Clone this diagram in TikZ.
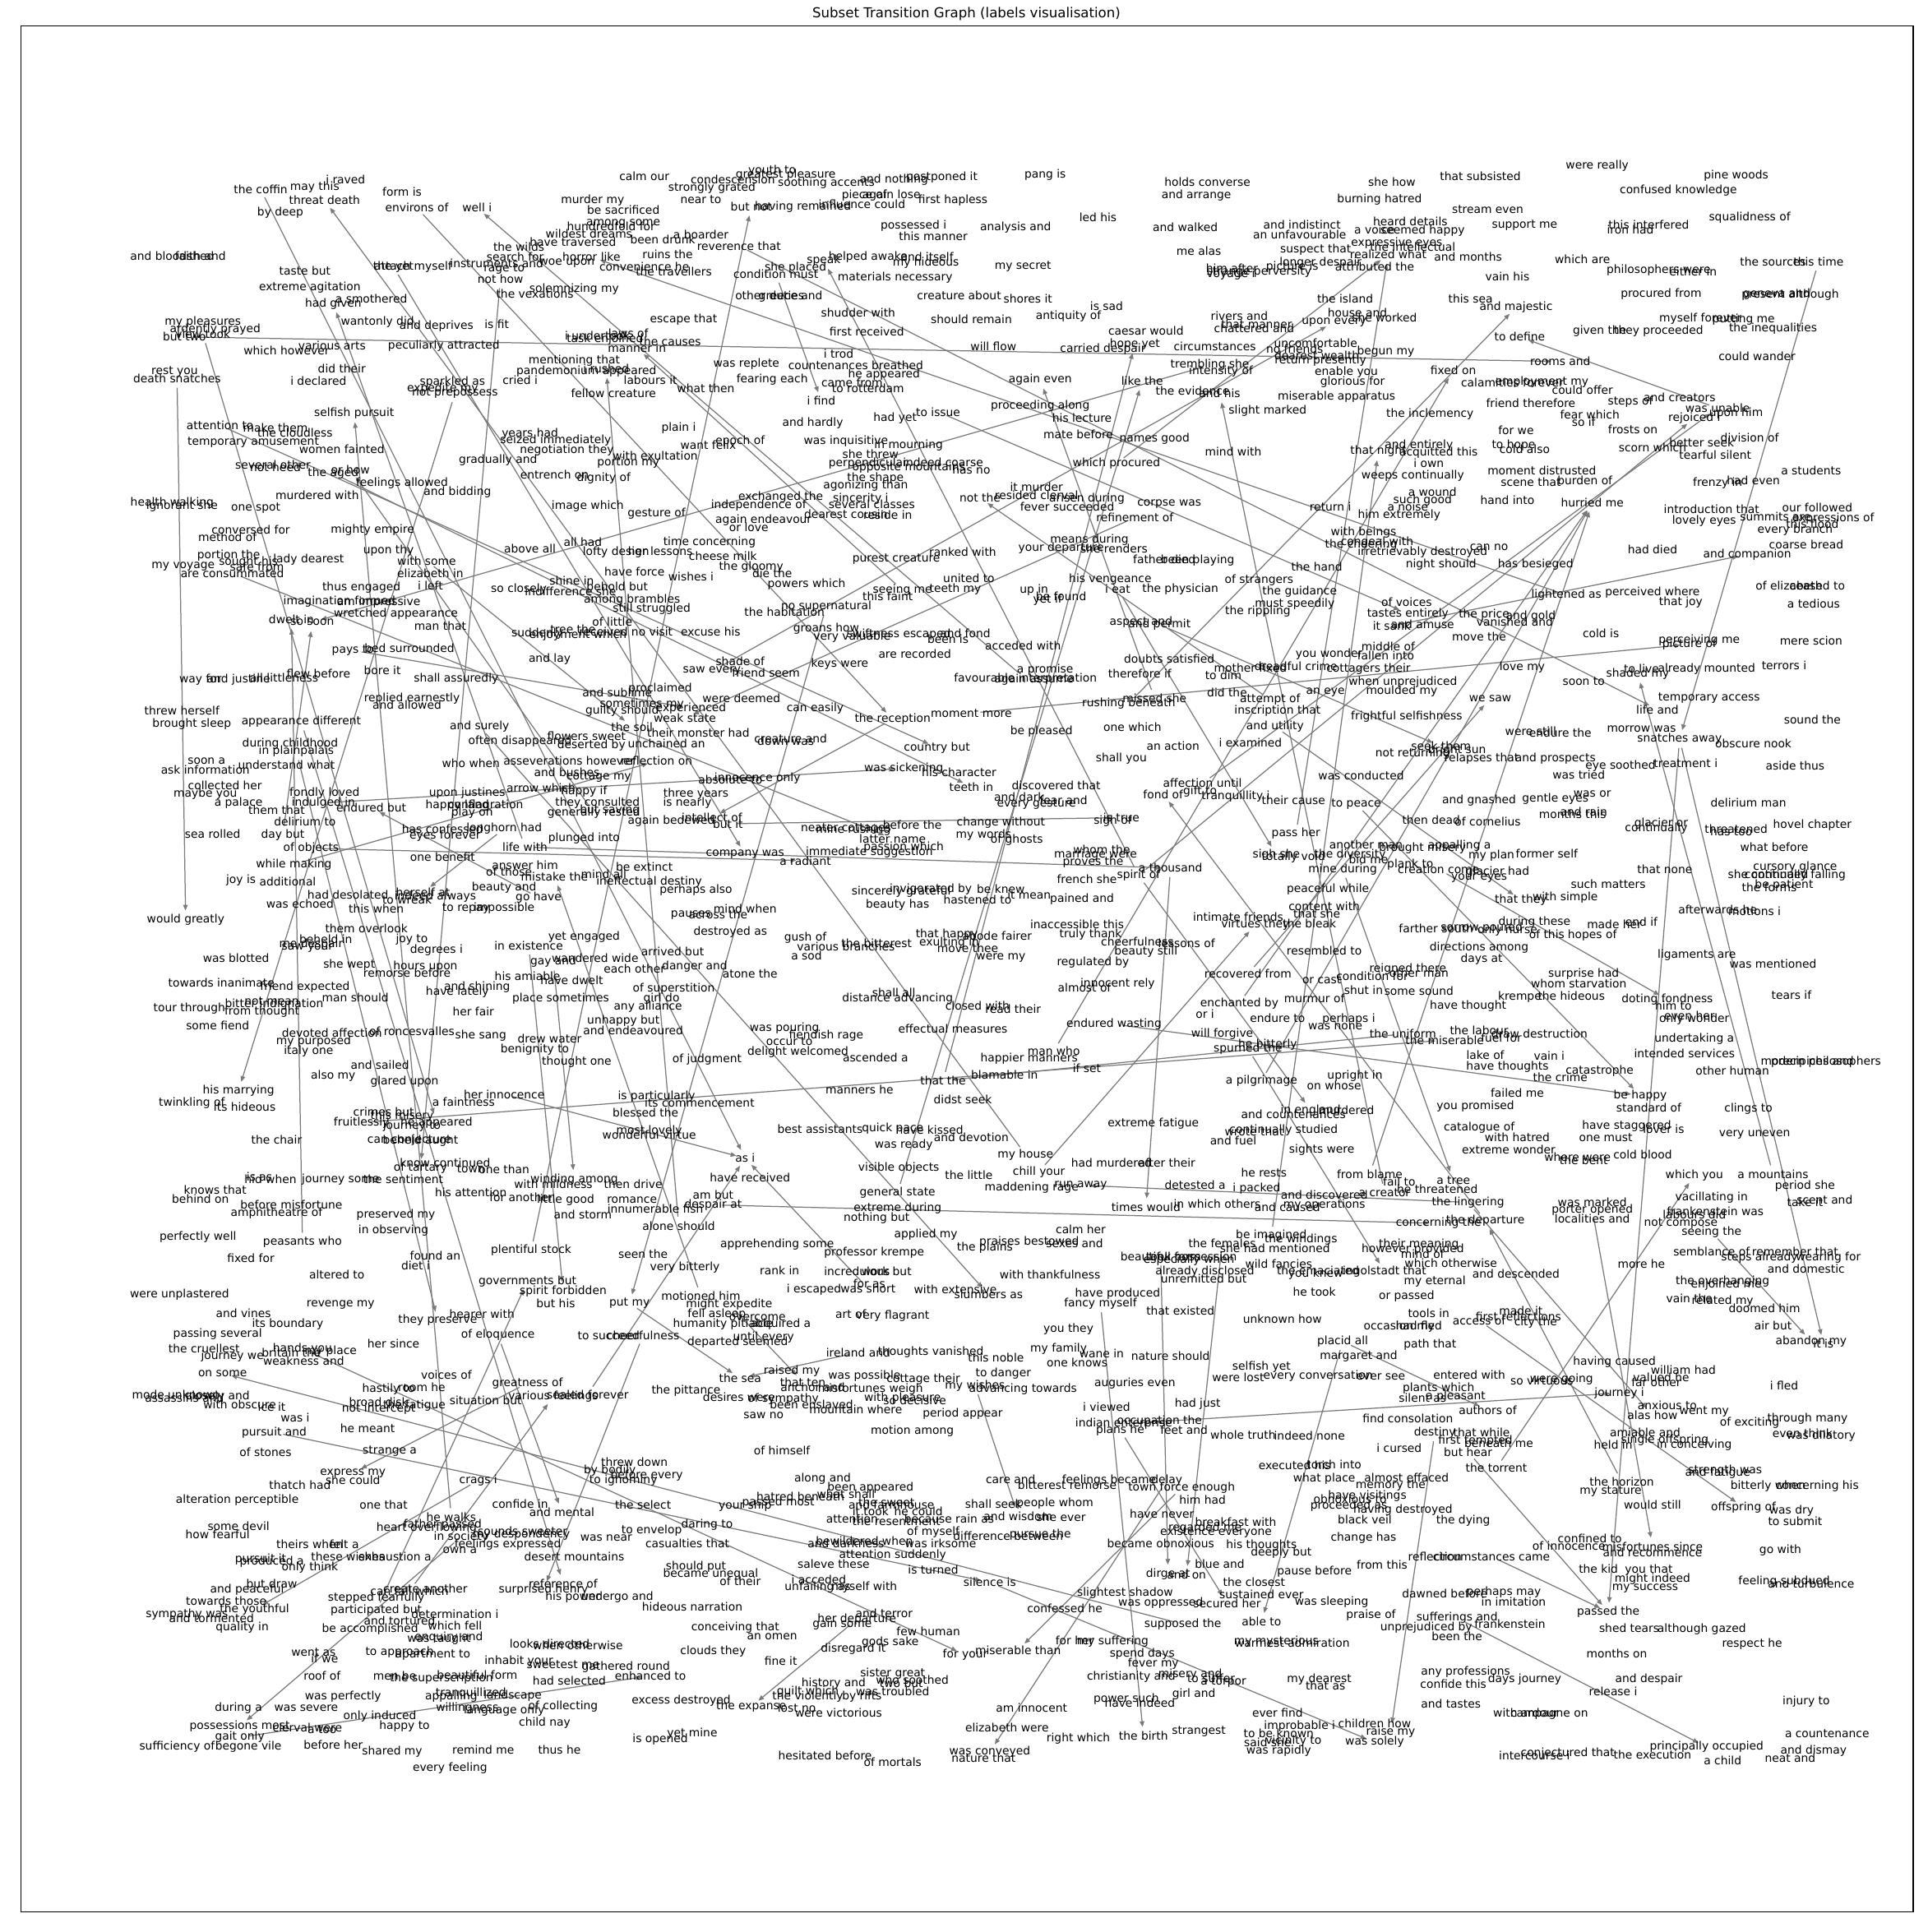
\documentclass[tikz,border=0pt]{standalone}
\usepackage{fontspec}
\setmainfont{DejaVu Sans}
\usetikzlibrary{arrows.meta,backgrounds}
\tikzset{
  lbl/.style={font=\fontsize{10}{12}\selectfont, inner sep=0pt, text=black},
  edge/.style={draw=black!52, line width=0.9pt, -{Triangle[length=5pt,width=4pt]}, shorten >=8pt, shorten <=8pt},
  frame/.style={draw=black, line width=0.8pt}
}
\def\wordat(#1)(#2,#3)#4{\node[lbl] (#1) at (#2,#3) {#4};}
\def\linkto(#1)(#2){\draw[edge] (#1.center) -- (#2.center);}

\begin{document}
\begin{tikzpicture}[x=0.037986cm, y=-0.037986cm]
			\useasboundingbox (0,0) rectangle (1568,1571.4);
			%%%%% FRAME %%%%%
			\draw[frame] (17,21) rectangle (1556,1555);
			\node (title) at (786,11) {\fontsize{12}{14}\selectfont Subset Transition Graph (labels visualisation)};
			
			%%%%% LABELS %%%%%
			\wordat(coffin)(212,154){the coffin}
			\wordat(maythis)(256,152){may this}
			\wordat(iraved)(281,146){i raved}
			\wordat(threatdeath)(264,163){threat death}
			\wordat(bydeep)(228,173){by deep}
			\wordat(formis)(327,156){form is}
			\wordat(environs)(339,169){environs of}
			\wordat(welli)(388,169){well i}
			\wordat(bloodshed)(140,208){and bloodshed}
			\wordat(faithand)(163,208){faith and}
			\wordat(tastebut)(248,220){taste but}
			\wordat(extremeag)(252,234){extreme agitation}
			\wordat(smothered)(302,243){a smothered}
			\wordat(hadgiven)(271,247){had given}
			\wordat(attachmyself)(336,217){attach myself}
			\wordat(theyet)(320,217){the yet}
			\wordat(mypleasures)(165,262){my pleasures}
			\wordat(ardently)(175,268){ardently prayed}
			\wordat(buttwo)(150,274){but two}
			\wordat(viewtook)(165,272){view took}
			\wordat(wantonly)(307,262){wantonly did}
			\wordat(deprives)(355,265){and deprives}
			\wordat(isfit)(404,264){is fit}
			\wordat(whichhowever)(233,285){which however}
			\wordat(variousarts)(270,281){various arts}
			\wordat(peculiarly)(361,281){peculiarly attracted}
			\wordat(restyou)(142,302){rest you}
			\wordat(deathsnatches)(144,308){death snatches}
			\wordat(didtheir)(278,300){did their}
			\wordat(ideclared)(259,310){i declared}
			\wordat(sparkled)(368,311){sparkled as}
			\wordat(expedite)(360,316){expedite my}
			\wordat(notprep)(370,320){not prepossess}
			\wordat(selfishpursuit)(288,336){selfish pursuit}
			\wordat(attentionto)(179,346){attention to}
			\wordat(makethem)(224,348){make them}
			\wordat(cloudless)(240,352){the cloudless}
			\wordat(tempamuse)(206,360){temporary amusement}
			\wordat(womenfainted)(278,365){women fainted}
			\wordat(severalother)(222,378){several other}
			\wordat(notheed)(224,380){not heed}
			\wordat(theaged)(271,385){the aged}
			\wordat(orhow)(285,382){or how}
			\wordat(feelingsallowed)(327,393){feelings allowed}
			\wordat(andbidding)(372,400){and bidding}
			\wordat(murderedwith)(258,403){murdered with}
			\wordat(healthwalking)(140,409){health walking}
			\wordat(ignorantshe)(148,412){ignorant she}
			\wordat(onespot)(208,413){one spot}
			\wordat(conversed)(204,431){conversed for}
			\wordat(methodof)(185,437){method of}
			\wordat(mightyempire)(303,431){mighty empire}
			\wordat(portionthe)(186,452){portion the}
			\wordat(soughthis)(202,457){sought his}
			\wordat(ladydearest)(251,455){lady dearest}
			\wordat(safefrom)(209,461){safe from}
			\wordat(myvoyage)(149,461){my voyage}
			\wordat(consummated)(189,466){are consummated}
			\wordat(uponthy)(316,448){upon thy}
			\wordat(withsome)(347,456){with some}
			\wordat(elizabethin)(350,466){elizabeth in}
			\wordat(ileft)(350,476){i left}
			\wordat(thusengaged)(294,478){thus engaged}
			\wordat(imagination)(276,489){imagination formed}
			\wordat(impressive)(308,490){am impressive}
			\wordat(wretched)(322,499){wretched appearance}
			\wordat(dweltin)(237,504){dwelt in}
			\wordat(sosoon)(254,506){so soon}
			\wordat(manthat)(358,509){man that}
			\wordat(paysto)(287,529){pays to}
			\wordat(bedsurrounded)(333,527){bed surrounded}
			\wordat(boreit)(311,545){bore it}
			\wordat(shallassuredly)(371,552){shall assuredly}
			\wordat(wayfor)(163,553){way for}
			\wordat(andjustine)(194,553){and justine}
			\wordat(littleness)(231,551){all littleness}
			\wordat(flewbefore)(259,548){flew before}
			\wordat(repliedearnestly)(335,568){replied earnestly}
			\wordat(andallowed)(331,573){and allowed}
			\wordat(threwherself)(148,578){threw herself}
			\wordat(broughtsleep)(156,589){brought sleep}
			\wordat(appdifferent)(245,587){appearance different}
			\wordat(calmour)(524,143){calm our}
			\wordat(youthto)(628,139){youth to}
			\wordat(greatestpleasure)(639,142){greatest pleasure}
			\wordat(condescension)(596,146){condescension}
			\wordat(soothing)(672,149){soothing accents}
			\wordat(andnothing)(727,146){and nothing}
			\wordat(postponed)(766,144){postponed it}
			\wordat(stronglygrated)(579,153){strongly grated}
			\wordat(nearto)(570,162){near to}
			\wordat(murdermy)(482,163){murder my}
			\wordat(pieceof)(703,159){piece of}
			\wordat(againlose)(725,159){again lose}
			\wordat(firsthapless)(775,163){first hapless}
			\wordat(butnot)(611,168){but not}
			\wordat(having)(653,168){having remained}
			\wordat(influence)(701,166){influence could}
			\wordat(sacrificed)(507,171){be sacrificed}
			\wordat(amongsome)(507,182){among some}
			\wordat(hundredfold)(497,184){hundredfold for}
			\wordat(possessedi)(743,184){possessed i}
			\wordat(wildest)(479,190){wildest dreams}
			\wordat(traversed)(466,197){have traversed}
			\wordat(beendrunk)(539,195){been drunk}
			\wordat(aboarder)(570,191){a boarder}
			\wordat(thismanner)(759,192){this manner}
			\wordat(reverence)(601,200){reverence that}
			\wordat(thewilds)(422,201){the wilds}
			\wordat(horrorlike)(481,209){horror like}
			\wordat(ruinsthe)(543,207){ruins the}
			\wordat(woeupon)(461,214){woe upon}
			\wordat(convenience)(524,217){convenience he}
			\wordat(travellers)(548,221){the travellers}
			\wordat(searchfor)(419,209){search for}
			\wordat(instruments)(404,214){instruments and}
			\wordat(rageto)(410,219){rage to}
			\wordat(nothow)(407,227){not how}
			\wordat(vexations)(435,239){the vexations}
			\wordat(solemnizing)(467,235){solemnizing my}
			\wordat(speak)(670,212){speak}
			\wordat(helpedawake)(706,209){helped awake}
			\wordat(anditself)(754,209){and itself}
			\wordat(sheplaced)(647,218){she placed}
			\wordat(myhideous)(753,214){my hideous}
			\wordat(conditionmust)(631,223){condition must}
			\wordat(materials)(728,226){materials necessary}
			\wordat(otherduties)(626,240){other duties}
			\wordat(greeceand)(643,241){greece and}
			\wordat(creatureabout)(780,240){creature about}
			\wordat(shudderwith)(698,254){shudder with}
			\wordat(escapethat)(556,260){escape that}
			\wordat(firstreceived)(705,270){first received}
			\wordat(lawsof)(511,271){laws of}
			\wordat(iundertook)(486,273){i undertook}
			\wordat(taskenjoined)(492,276){task enjoined}
			\wordat(thecauses)(545,278){the causes}
			\wordat(mannerin)(518,283){manner in}
			\wordat(itrod)(682,288){i trod}
			\wordat(mentioning)(467,293){mentioning that}
			\wordat(pandemonium)(477,302){pandemonium appeared}
			\wordat(irushed)(493,300){i rushed}
			\wordat(wasreplete)(607,296){was replete}
			\wordat(countenances)(696,297){countenances breathed}
			\wordat(heappeared)(719,305){he appeared}
			\wordat(criedi)(423,309){cried i}
			\wordat(laboursit)(529,309){labours it}
			\wordat(fearingeach)(628,309){fearing each}
			\wordat(camefrom)(693,311){came from}
			\wordat(fellowcreature)(499,320){fellow creature}
			\wordat(whatthen)(574,316){what then}
			\wordat(torotterdam)(706,316){to rotterdam}
			\wordat(ifind)(668,326){i find}
			\wordat(toissue)(763,335){to issue}
			\wordat(hadyet)(728,340){had yet}
			\wordat(andhardly)(661,344){and hardly}
			\wordat(plaini)(552,348){plain i}
			\wordat(yearshad)(431,353){years had}
			\wordat(seized)(452,358){seized immediately}
			\wordat(negotiation)(461,366){negotiation they}
			\wordat(wantfelix)(576,362){want felix}
			\wordat(epochof)(602,359){epoch of}
			\wordat(inquisitive)(688,359){was inquisitive}
			\wordat(inmourning)(739,362){in mourning}
			\wordat(exultation)(533,371){with exultation}
			\wordat(portionmy)(511,376){portion my}
			\wordat(gradually)(405,374){gradually and}
			\wordat(shethrew)(708,369){she threw}
			\wordat(perpendicular)(706,377){perpendicular}
			\wordat(indeedcoarse)(767,376){indeed coarse}
			\wordat(oppositemount)(739,380){opposite mountains}
			\wordat(hasno)(790,382){has no}
			\wordat(entrench)(451,386){entrench on}
			\wordat(dignityof)(491,389){dignity of}
			\wordat(theshape)(712,389){the shape}
			\wordat(agonizing)(704,395){agonizing than}
			\wordat(exchanged)(635,404){exchanged the}
			\wordat(sincerity)(700,406){sincerity i}
			\wordat(imagewhich)(478,412){image which}
			\wordat(independence)(617,411){independence of}
			\wordat(severalclasses)(709,410){several classes}
			\wordat(gestureof)(534,418){gesture of}
			\wordat(dearestcousin)(688,418){dearest cousin}
			\wordat(residein)(722,419){reside in}
			\wordat(endeavour)(621,423){again endeavour}
			\wordat(orlove)(609,429){or love}
			\wordat(aboveall)(431,446){above all}
			\wordat(allhad)(474,441){all had}
			\wordat(timeconcerning)(577,441){time concerning}
			\wordat(loftydesign)(501,449){lofty design}
			\wordat(herlessons)(537,448){her lessons}
			\wordat(cheesemilk)(588,452){cheese milk}
			\wordat(rankedwith)(783,449){ranked with}
			\wordat(purestcreature)(729,455){purest creature}
			\wordat(thegloomy)(611,461){the gloomy}
			\wordat(haveforce)(516,465){have force}
			\wordat(diethe)(628,466){die the}
			\wordat(wishesi)(562,469){wishes i}
			\wordat(shinein)(465,472){shine in}
			\wordat(unitedto)(788,470){united to}
			\wordat(soclosely)(422,479){so closely}
			\wordat(beholdbut)(502,477){behold but}
			\wordat(indifference)(464,481){indifference she}
			\wordat(powerswhich)(656,475){powers which}
			\wordat(seeingme)(734,480){seeing me}
			\wordat(teethmy)(777,479){teeth my}
			\wordat(thisfaint)(722,485){this faint}
			\wordat(brambles)(514,488){among brambles}
			\wordat(struggled)(530,495){still struggled}
			\wordat(nosuper)(672,493){no supernatural}
			\wordat(habitation)(638,498){the habitation}
			\wordat(oflittle)(498,506){of little}
			\wordat(suddenly)(437,515){suddenly}
			\wordat(treethe)(466,512){tree the}
			\wordat(novisit)(509,514){received no visit}
			\wordat(enjoyment)(470,517){enjoyment which}
			\wordat(excusehis)(578,514){excuse his}
			\wordat(groanshow)(672,511){groans how}
			\wordat(valuable)(693,518){very valuable}
			\wordat(swiftness)(731,516){swiftness escaped}
			\wordat(andfond)(785,515){and fond}
			\wordat(beenis)(771,520){been is}
			\wordat(recorded)(744,532){are recorded}
			\wordat(andlay)(447,536){and lay}
			\wordat(shadeof)(602,538){shade of}
			\wordat(savevery)(579,546){saw every}
			\wordat(friendseem)(623,547){friend seem}
			\wordat(keyswere)(683,540){keys were}
			\wordat(andsublime)(502,563){and sublime}
			\wordat(proclaimed)(537,560){proclaimed}
			\wordat(sometimesmy)(522,573){sometimes my}
			\wordat(weredeemed)(603,568){were deemed}
			\wordat(guiltyshould)(506,578){guilty should}
			\wordat(experienced)(562,576){experienced}
			\wordat(weakstate)(557,584){weak state}
			\wordat(caneasily)(663,576){can easily}
			\wordat(reception)(726,585){the reception}
			\wordat(momentmore)(790,580){moment more}
			\wordat(pangis)(850,142){pang is}
			\wordat(holdsconverse)(982,148){holds converse}
			\wordat(shehow)(1132,148){she how}
			\wordat(thatsubsisted)(1204,143){that subsisted}
			\wordat(werereally)(1299,135){were really}
			\wordat(pinewoods)(1412,143){pine woods}
			\wordat(andarrange)(973,159){and arrange}
			\wordat(burninghatred)(1122,162){burning hatred}
			\wordat(confusedknow)(1365,155){confused knowledge}
			\wordat(streameven)(1210,170){stream even}
			\wordat(ledhis)(893,177){led his}
			\wordat(analysisand)(826,185){analysis and}
			\wordat(andwalked)(964,185){and walked}
			\wordat(indistinct)(1059,183){and indistinct}
			\wordat(unfavourable)(1057,191){an unfavourable}
			\wordat(avoice)(1118,187){a voice}
			\wordat(hearddetails)(1147,180){heard details}
			\wordat(seemedhappy)(1157,188){seemed happy}
			\wordat(supportme)(1240,183){support me}
			\wordat(interfered)(1341,183){this interfered}
			\wordat(ironhad)(1326,187){iron had}
			\wordat(squalidness)(1423,177){squalidness of}
			\wordat(expressive)(1136,198){expressive eyes}
			\wordat(mealas)(975,204){me alas}
			\wordat(intellectual)(1149,201){the intellectual}
			\wordat(suspectthat)(1070,203){suspect that}
			\wordat(realizedwhat)(1129,207){realized what}
			\wordat(andmonths)(1194,209){and months}
			\wordat(mysecret)(832,217){my secret}
			\wordat(longerdespair)(1074,214){longer despair}
			\wordat(himafter)(1002,218){him after}
			\wordat(pictureis)(1051,217){picture is}
			\wordat(attributed)(1118,217){attributed the}
			\wordat(perversity)(1024,221){strange perversity}
			\wordat(voyagei)(1001,223){voyage i}
			\wordat(whichare)(1287,211){which are}
			\wordat(vainhis)(1226,225){vain his}
			\wordat(philosophers)(1349,220){philosophers were}
			\wordat(eitherin)(1377,221){either in}
			\wordat(sources)(1442,213){the sources}
			\wordat(thistime)(1479,213){this time}
			\wordat(shoresit)(836,243){shores it}
			\wordat(island)(1094,243){the island}
			\wordat(thissea)(1196,243){this sea}
			\wordat(majestic)(1233,250){and majestic}
			\wordat(issad)(900,249){is sad}
			\wordat(antiquity)(869,257){antiquity of}
			\wordat(shouldremain)(790,260){should remain}
			\wordat(riversand)(1008,257){rivers and}
			\wordat(houseand)(1104,254){house and}
			\wordat(uponevery)(1085,262){upon every}
			\wordat(sheworked)(1126,258){she worked}
			\wordat(thatmanner)(1022,264){that manner}
			\wordat(chattered)(1020,267){chattered and}
			\wordat(caesar)(932,269){caesar would}
			\wordat(procuredfrom)(1351,239){procured from}
			\wordat(genevaand)(1445,239){geneva and}
			\wordat(presentalthough)(1456,240){present although}
			\wordat(myselfforever)(1383,259){myself forever}
			\wordat(puttingme)(1418,260){putting me}
			\wordat(inequalities)(1442,267){the inequalities}
			\wordat(giventhe)(1301,269){given the}
			\wordat(theyproceeded)(1349,269){they proceeded}
			\wordat(todefine)(1236,274){to define}
			\wordat(couldwander)(1429,290){could wander}
			\wordat(willflow)(808,282){will flow}
			\wordat(carrieddespair)(897,284){carried despair}
			\wordat(hopeyet)(923,280){hope yet}
			\wordat(circumstances)(988,282){circumstances}
			\wordat(uncomfortable)(1070,279){uncomfortable}
			\wordat(nofriends)(1053,284){no friends}
			\wordat(dearestwealth)(1071,289){dearest wealth}
			\wordat(returnpresently)(1074,293){return presently}
			\wordat(begunmy)(1127,286){begun my}
			\wordat(roomsand)(1269,294){rooms and}
			\wordat(fixedon)(1182,301){fixed on}
			\wordat(tremblingshe)(984,297){trembling she}
			\wordat(intensity)(993,302){intensity of}
			\wordat(calamities)(1230,311){calamities forever}
			\wordat(employment)(1254,311){employment my}
			\wordat(couldoffer)(1287,317){could offer}
			\wordat(enableyou)(1095,303){enable you}
			\wordat(gloriousfor)(1100,311){glorious for}
			\wordat(againeven)(846,309){again even}
			\wordat(likethe)(929,310){like the}
			\wordat(evidence)(970,318){the evidence}
			\wordat(andhis)(992,320){and his}
			\wordat(apparatus)(1087,323){miserable apparatus}
			\wordat(slightmarked)(1031,334){slight marked}
			\wordat(andcreators)(1366,323){and creators}
			\wordat(friendtherefore)(1245,328){friend therefore}
			\wordat(stepsof)(1326,327){steps of}
			\wordat(wasunable)(1397,332){was unable}
			\wordat(uponhim)(1412,336){upon him}
			\wordat(fearwhich)(1293,337){fear which}
			\wordat(rejoicedi)(1378,340){rejoiced i}
			\wordat(soif)(1288,343){so if}
			\wordat(proceeding)(846,330){proceeding along}
			\wordat(hislecture)(880,340){his lecture}
			\wordat(inclemency)(1163,337){the inclemency}
			\wordat(matebefore)(877,353){mate before}
			\wordat(namesgood)(939,357){names good}
			\wordat(mindwith)(1003,367){mind with}
			\wordat(thatnight)(1121,367){that night}
			\wordat(entirely)(1154,362){and entirely}
			\wordat(acquitted)(1170,368){acquitted this}
			\wordat(iown)(1162,377){i own}
			\wordat(forwe)(1233,350){for we}
			\wordat(frostson)(1328,349){frosts on}
			\wordat(betterseek)(1384,360){better seek}
			\wordat(divisionof)(1423,356){division of}
			\wordat(tohope)(1231,362){to hope}
			\wordat(coldalso)(1240,365){cold also}
			\wordat(scornwhich)(1344,364){scorn which}
			\wordat(tearfulsilent)(1395,370){tearful silent}
			\wordat(whichprocured)(908,377){which procured}
			\wordat(notthe)(797,405){not the}
			\wordat(itmurder)(843,396){it murder}
			\wordat(residedclerval)(843,403){resided clerval}
			\wordat(arisenduring)(884,406){arisen during}
			\wordat(fever)(868,412){fever succeeded}
			\wordat(corpsewas)(951,410){corpse was}
			\wordat(returni)(1082,412){return i}
			\wordat(suchgood)(1157,407){such good}
			\wordat(anoise)(1145,412){a noise}
			\wordat(himextremely)(1138,419){him extremely}
			\wordat(awound)(1165,400){a wound}
			\wordat(distrusted)(1254,383){moment distrusted}
			\wordat(scenethat)(1245,392){scene that}
			\wordat(burdenof)(1289,391){burden of}
			\wordat(astudents)(1473,383){a students}
			\wordat(frenzyin)(1397,393){frenzy in}
			\wordat(hadeven)(1426,391){had even}
			\wordat(weeps)(1149,387){weeps continually}
			\wordat(handinto)(1226,407){hand into}
			\wordat(hurriedme)(1295,409){hurried me}
			\wordat(introduction)(1392,414){introduction that}
			\wordat(ourfollowed)(1478,413){our followed}
			\wordat(lovelyeyes)(1386,424){lovely eyes}
			\wordat(summits)(1444,420){summits are}
			\wordat(expressions)(1491,422){expressions of}
			\wordat(thisflood)(1474,426){this flood}
			\wordat(everybranch)(1460,431){every branch}
			\wordat(refinement)(923,421){refinement of}
			\wordat(withbeings)(1109,433){with beings}
			\wordat(congeal)(1120,441){congeal with}
			\wordat(cheering)(1107,443){the cheering}
			\wordat(irretrievably)(1157,449){irretrievably destroyed}
			\wordat(canno)(1211,445){can no}
			\wordat(haddied)(1344,447){had died}
			\wordat(companion)(1421,451){and companion}
			\wordat(coarsebread)(1469,443){coarse bread}
			\wordat(meansduring)(886,439){means during}
			\wordat(yourdeparture)(863,446){your departure}
			\wordat(renders)(906,446){she renders}
			\wordat(nightshould)(1172,459){night should}
			\wordat(besieged)(1249,459){has besieged}
			\wordat(fatherdied)(947,455){father died}
			\wordat(beenplaying)(974,456){been playing}
			\wordat(thehand)(1071,461){the hand}
			\wordat(vengeance)(903,471){his vengeance}
			\wordat(ofstrangers)(1024,472){of strangers}
			\wordat(upin)(841,480){up in}
			\wordat(befound)(863,485){be found}
			\wordat(yetif)(852,488){yet if}
			\wordat(ieat)(909,479){i eat}
			\wordat(physician)(960,479){the physician}
			\wordat(guidance)(1057,481){the guidance}
			\wordat(speedily)(1053,491){must speedily}
			\wordat(rippling)(1023,497){the rippling}
			\wordat(ofvoices)(1144,490){of voices}
			\wordat(tastes)(1145,499){tastes entirely}
			\wordat(elizabethof)(1455,476){of elizabeth}
			\wordat(ceasedto)(1478,476){ceased to}
			\wordat(tedious)(1475,491){a tedious}
			\wordat(lightenedas)(1274,484){lightened as}
			\wordat(perceived)(1344,482){perceived where}
			\wordat(thatjoy)(1367,490){that joy}
			\wordat(aspectand)(928,506){aspect and}
			\wordat(permit)(943,508){and permit}
			\wordat(itsank)(1132,509){it sank}
			\wordat(amuse)(1157,508){and amuse}
			\wordat(theprice)(1207,500){the price}
			\wordat(andgold)(1245,501){and gold}
			\wordat(vanished)(1232,506){vanished and}
			\wordat(movethe)(1203,518){move the}
			\wordat(coldis)(1302,515){cold is}
			\wordat(pictureof)(1374,524){picture of}
			\wordat(perceivingme)(1382,521){perceiving me}
			\wordat(merescion)(1473,521){mere scion}
			\wordat(acceded)(832,525){acceded with}
			\wordat(middleof)(1129,526){middle of}
			\wordat(fallen)(1127,533){fallen into}
			\wordat(youwonder)(1081,532){you wonder}
			\wordat(doubts)(951,536){doubts satisfied}
			\wordat(dreadful)(1054,542){dreadful crime}
			\wordat(motherfixed)(1017,543){mother fixed}
			\wordat(cottagers)(1113,544){cottagers their}
			\wordat(apromise)(850,545){a promise}
			\wordat(againassume)(841,553){again assume}
			\wordat(favourableint)(834,552){favourable interpretation}
			\wordat(thereforeif)(927,548){therefore if}
			\wordat(todim)(995,549){to dim}
			\wordat(lovemy)(1238,543){love my}
			\wordat(tolive)(1335,544){to live}
			\wordat(already)(1388,544){already mounted}
			\wordat(shadedmy)(1332,548){shaded my}
			\wordat(terrorsi)(1451,541){terrors i}
			\wordat(soonto)(1288,554){soon to}
			\wordat(unprejudiced)(1141,555){when unprejudiced}
			\wordat(mouldedmy)(1140,562){moulded my}
			\wordat(wesaw)(1212,568){we saw}
			\wordat(didthe)(998,563){did the}
			\wordat(aneye)(1078,563){an eye}
			\wordat(attemptof)(1033,569){attempt of}
			\wordat(missedshe)(939,568){missed she}
			\wordat(rushing)(918,572){rushing beneath}
			\wordat(inscription)(1039,578){inscription that}
			\wordat(frightful)(1144,583){frightful selfishness}
			\wordat(tempaccess)(1390,568){temporary access}
			\wordat(lifeand)(1348,577){life and}
			\wordat(soundthe)(1474,585){sound the}
			\wordat(snatchesaway)(1366,601){snatches away}
			\wordat(morrowwas)(1335,593){morrow was}
			\wordat(endurethe)(1269,596){endure the}
			\wordat(werestill)(1245,595){were still}
			\wordat(relapses)(1205,617){relapses that}
			\wordat(prospects)(1265,617){and prospects}
			\wordat(eyesoothed)(1318,623){eye soothed}
			\wordat(treatmenti)(1371,621){treatment i}
			\wordat(obscurenook)(1426,605){obscure nook}
			\wordat(asidethus)(1460,623){aside thus}
			\wordat(wastried)(1284,630){was tried}
			\wordat(deliriumman)(1422,653){delirium man}
			\wordat(andsurely)(390,591){and surely}
			\wordat(childhood)(236,605){during childhood}
			\wordat(plainpalais)(241,611){in plainpalais}
			\wordat(soona)(168,619){soon a}
			\wordat(understand)(233,622){understand what}
			\wordat(oftendisappeared)(423,603){often disappeared}
			\wordat(whowhen)(383,621){who when}
			\wordat(askinfo)(167,626){ask information}
			\wordat(collected)(183,639){collected her}
			\wordat(maybeyou)(167,646){maybe you}
			\wordat(apalace)(194,653){a palace}
			\wordat(fondlyloved)(264,645){fondly loved}
			\wordat(indulgedin)(263,653){indulged in}
			\wordat(themthat)(225,659){them that}
			\wordat(enduredbut)(302,657){endured but}
			\wordat(justines)(380,645){upon justines}
			\wordat(happyland)(372,655){happy land}
			\wordat(conflagration)(395,655){conflagration}
			\wordat(playon)(384,661){play on}
			\wordat(delirium)(248,668){delirium to}
			\wordat(daybut)(230,679){day but}
			\wordat(searolled)(173,678){sea rolled}
			\wordat(confessed)(360,674){has confessed}
			\wordat(eyesforever)(362,680){eyes forever}
			\wordat(longhornhad)(410,674){longhorn had}
			\wordat(ofobjects)(253,690){of objects}
			\wordat(lifewith)(427,689){life with}
			\wordat(onebenefit)(360,697){one benefit}
			\wordat(whilemaking)(239,703){while making}
			\wordat(answerhim)(427,704){answer him}
			\wordat(ofthose)(414,709){of those}
			\wordat(joyis)(196,716){joy is}
			\wordat(additional)(234,717){additional}
			\wordat(beautyand)(410,722){beauty and}
			\wordat(desolated)(283,728){had desolated}
			\wordat(herselfat)(344,726){herself at}
			\wordat(towreak)(331,732){to wreak}
			\wordat(indeedalways)(354,729){indeed always}
			\wordat(wasechoed)(244,735){was echoed}
			\wordat(thiswhen)(306,739){this when}
			\wordat(torepay)(379,739){to repay}
			\wordat(impossible)(410,739){impossible}
			\wordat(gohave)(438,730){go have}
			\wordat(mistakethe)(451,713){mistake the}
			\wordat(mindall)(491,711){mind all}
			\wordat(wouldgreatly)(151,748){would greatly}
			\wordat(overlook)(298,755){them overlook}
			\wordat(beheldin)(265,764){beheld in}
			\wordat(medespair)(253,768){me despair}
			\wordat(sawyour)(250,771){saw your}
			\wordat(joyto)(335,764){joy to}
			\wordat(degreesi)(355,773){degrees i}
			\wordat(inexistence)(430,769){in existence}
			\wordat(wasblotted)(192,779){was blotted}
			\wordat(shewept)(284,785){she wept}
			\wordat(hoursupon)(346,786){hours upon}
			\wordat(remorse)(331,791){remorse before}
			\wordat(hisamiable)(429,794){his amiable}
			\wordat(gayand)(450,782){gay and}
			\wordat(inanimate)(180,799){towards inanimate}
			\wordat(friendexpected)(248,803){friend expected}
			\wordat(havelately)(372,807){have lately}
			\wordat(andshining)(388,803){and shining}
			\wordat(havedwelt)(465,797){have dwelt}
			\wordat(wanderedwide)(484,779){wandered wide}
			\wordat(yetengaged)(475,762){yet engaged}
			\wordat(notmean)(221,814){not mean}
			\wordat(manshould)(289,811){man should}
			\wordat(bitterind)(223,817){bitter indignation}
			\wordat(tourthrough)(154,820){tour through}
			\wordat(fromthought)(213,823){from thought}
			\wordat(herfair)(385,823){her fair}
			\wordat(placesometimes)(456,812){place sometimes}
			\wordat(somefiend)(177,834){some fiend}
			\wordat(devoted)(270,840){devoted affection}
			\wordat(roncesvalles)(335,839){of roncesvalles}
			\wordat(shesang)(391,842){she sang}
			\wordat(mypurposed)(255,847){my purposed}
			\wordat(italyone)(251,855){italy one}
			\wordat(drewwater)(447,845){drew water}
			\wordat(benignity)(435,854){benignity to}
			\wordat(thoughtone)(469,864){thought one}
			\wordat(andsailed)(309,866){and sailed}
			\wordat(alsomy)(271,875){also my}
			\wordat(glaredupon)(329,880){glared upon}
			\wordat(hismarrying)(194,887){his marrying}
			\wordat(twinkling)(156,897){twinkling of}
			\wordat(itshideous)(199,900){its hideous}
			\wordat(crimesbut)(312,904){crimes but}
			\wordat(thismisery)(327,908){this misery}
			\wordat(afaintness)(377,896){a faintness}
			\wordat(herinnocence)(410,890){her innocence}
			\wordat(fruitlessly)(294,913){fruitlessly}
			\wordat(heappearedb)(355,913){he appeared}
			\wordat(journeyto)(335,916){journey to}
			\wordat(thechair)(225,927){the chair}
			\wordat(conjecture)(333,927){can conjecture}
			\wordat(beheldaught)(342,928){beheld aught}
			\wordat(knowcontinued)(362,946){know continued}
			\wordat(oftartary)(342,950){of tartary}
			\wordat(town)(383,951){town}
			\wordat(onethan)(410,951){one than}
			\wordat(isas)(211,957){is as}
			\wordat(hidwhen)(220,959){hid when}
			\wordat(journeysome)(277,959){journey some}
			\wordat(sentiment)(328,959){the sentiment}
			\wordat(knowsthat)(175,968){knows that}
			\wordat(behindon)(163,975){behind on}
			\wordat(hisattention)(383,970){his attention}
			\wordat(foranother)(424,974){for another}
			\wordat(misfortune)(237,980){before misfortune}
			\wordat(amphitheatre)(225,987){amphitheatre of}
			\wordat(preservedmy)(322,988){preserved my}
			\wordat(perfectlywell)(161,1006){perfectly well}
			\wordat(peasants)(246,1010){peasants who}
			\wordat(inobserving)(320,1001){in observing}
			\wordat(fixedfor)(204,1023){fixed for}
			\wordat(foundan)(354,1021){found an}
			\wordat(dieti)(338,1029){diet i}
			\wordat(alteredto)(274,1037){altered to}
			\wordat(unplastered)(146,1053){were unplastered}
			\wordat(plentiful)(432,1017){plentiful stock}
			\wordat(governments)(429,1042){governments but}
			\wordat(thesoil)(514,591){the soil}
			\wordat(flowerssweet)(477,599){flowers sweet}
			\wordat(monsterhad)(568,596){their monster had}
			\wordat(creatureand)(643,601){creature and}
			\wordat(downwas)(639,603){down was}
			\wordat(desertedby)(481,606){deserted by}
			\wordat(unchained)(542,605){unchained an}
			\wordat(countrybut)(762,608){country but}
			\wordat(asseverations)(463,619){asseverations however}
			\wordat(reflection)(534,619){reflection on}
			\wordat(bushes)(461,628){and bushes}
			\wordat(cottagemy)(487,632){cottage my}
			\wordat(innocenceonly)(616,633){innocence only}
			\wordat(absoluteto)(594,634){absolute to}
			\wordat(sickening)(735,625){was sickening}
			\wordat(hischaracter)(780,628){his character}
			\wordat(teethin)(790,640){teeth in}
			\wordat(arrowwhich)(440,641){arrow which}
			\wordat(happyif)(475,644){happy if}
			\wordat(threeyears)(566,646){three years}
			\wordat(isnearly)(559,653){is nearly}
			\wordat(consulted)(486,653){they consulted}
			\wordat(butsaving)(496,659){but saving}
			\wordat(generally)(483,661){generally rested}
			\wordat(intellectof)(579,665){intellect of}
			\wordat(bedewed)(546,668){again bedewed}
			\wordat(butit)(592,670){but it}
			\wordat(plunged)(475,682){plunged into}
			\wordat(neater)(688,674){neater cottages}
			\wordat(minerushing)(694,675){mine rushing}
			\wordat(beforethe)(742,671){before the}
			\wordat(lattername)(726,682){latter name}
			\wordat(passion)(735,689){passion which}
			\wordat(companywas)(606,695){company was}
			\wordat(immediate)(707,693){immediate suggestion}
			\wordat(aradiant)(655,700){a radiant}
			\wordat(beextinct)(524,705){be extinct}
			\wordat(ineffectual)(528,717){ineffectual destiny}
			\wordat(perhapsalso)(566,724){perhaps also}
			\wordat(sincerely)(733,725){sincerely grateful}
			\wordat(invigorated)(757,723){invigorated by}
			\wordat(hastenedto)(795,732){hastened to}
			\wordat(beautyhas)(730,736){beauty has}
			\wordat(mindwhen)(606,739){mind when}
			\wordat(acrossthe)(584,744){across the}
			\wordat(pauses)(562,744){pauses}
			\wordat(destroyedas)(594,758){destroyed as}
			\wordat(gushof)(655,763){gush of}
			\wordat(branches)(688,770){various branches}
			\wordat(bitterest)(713,767){the bitterest}
			\wordat(exulting)(772,767){exulting in}
			\wordat(thathappy)(770,760){that happy}
			\wordat(movethee)(787,771){move thee}
			\wordat(asod)(656,777){a sod}
			\wordat(arrivedbut)(547,774){arrived but}
			\wordat(eachother)(516,788){each other}
			\wordat(dangerand)(565,786){danger and}
			\wordat(atonethe)(610,792){atone the}
			\wordat(superstition)(548,804){of superstition}
			\wordat(girldo)(538,812){girl do}
			\wordat(anyalliance)(527,819){any alliance}
			\wordat(shallall)(727,807){shall all}
			\wordat(distance)(730,812){distance advancing}
			\wordat(closedwith)(795,818){closed with}
			\wordat(unhappybut)(507,830){unhappy but}
			\wordat(endeavoured)(515,838){and endeavoured}
			\wordat(waspouring)(638,836){was pouring}
			\wordat(fiendish)(672,842){fiendish rage}
			\wordat(occurto)(642,847){occur to}
			\wordat(delight)(649,856){delight welcomed}
			\wordat(ofjudgment)(575,862){of judgment}
			\wordat(ascendeda)(712,860){ascended a}
			\wordat(effectual)(775,837){effectual measures}
			\wordat(thatthe)(767,879){that the}
			\wordat(mannershe)(699,886){manners he}
			\wordat(didstseek)(783,894){didst seek}
			\wordat(particularly)(534,892){is particularly}
			\wordat(commencement)(569,897){its commencement}
			\wordat(blessed)(525,905){blessed the}
			\wordat(mostlovely)(528,920){most lovely}
			\wordat(wonderful)(528,923){wonderful virtue}
			\wordat(assistants)(667,918){best assistants}
			\wordat(quickpace)(726,918){quick pace}
			\wordat(havekissed)(756,919){have kissed}
			\wordat(devotion)(790,925){and devotion}
			\wordat(wasready)(735,931){was ready}
			\wordat(asi)(606,942){as i}
			\wordat(havereceived)(610,958){have received}
			\wordat(visible)(731,950){visible objects}
			\wordat(thelittle)(788,956){the little}
			\wordat(winding)(467,959){winding among}
			\wordat(mildness)(450,963){with mildness}
			\wordat(thendrive)(515,963){then drive}
			\wordat(ambut)(580,972){am but}
			\wordat(generalstate)(730,970){general state}
			\wordat(littlegood)(460,976){little good}
			\wordat(romance)(514,976){romance}
			\wordat(despairat)(580,980){despair at}
			\wordat(fish)(533,983){innumerable fish}
			\wordat(andstorm)(474,988){and storm}
			\wordat(extremeduring)(730,983){extreme during}
			\wordat(nothingbut)(713,991){nothing but}
			\wordat(aloneshould)(552,997){alone should}
			\wordat(appliedmy)(753,1004){applied my}
			\wordat(apprehending)(632,1012){apprehending some}
			\wordat(seenthe)(523,1020){seen the}
			\wordat(krempe)(711,1019){professor krempe}
			\wordat(verybitterly)(557,1031){very bitterly}
			\wordat(rankin)(634,1033){rank in}
			\wordat(incredulous)(697,1034){incredulous}
			\wordat(workbut)(721,1034){work but}
			\wordat(spiritforbidden)(458,1050){spirit forbidden}
			\wordat(iescaped)(662,1049){i escaped}
			\wordat(foras)(707,1044){for as}
			\wordat(wasshort)(706,1048){was short}
			\wordat(extensive)(777,1049){with extensive}
			\wordat(motionedhim)(570,1054){motioned him}
			\wordat(bepleased)(847,595){be pleased}
			\wordat(onewhich)(921,591){one which}
			\wordat(andutility)(1037,591){and utility}
			\wordat(seekthem)(1172,607){seek them}
			\wordat(anaction)(954,607){an action}
			\wordat(iexamined)(1017,604){i examined}
			\wordat(shallyou)(912,617){shall you}
			\wordat(notreturning)(1149,613){not returning}
			\wordat(brightsun)(1185,610){bright sun}
			\wordat(conducted)(1107,631){was conducted}
			\wordat(affection)(978,637){affection until}
			\wordat(discovered)(859,639){discovered that}
			\wordat(anddark)(829,648){and dark}
			\wordat(everygesture)(843,654){every gesture}
			\wordat(fearand)(865,651){fear and}
			\wordat(fondof)(946,646){fond of}
			\wordat(giftto)(976,644){gift to}
			\wordat(tranquillity)(1005,648){tranquillity i}
			\wordat(theircause)(1052,651){their cause}
			\wordat(topeace)(1103,654){to peace}
			\wordat(gnashed)(1203,651){and gnashed}
			\wordat(gentleeyes)(1265,650){gentle eyes}
			\wordat(wasor)(1295,646){was or}
			\wordat(monthsthis)(1279,662){months this}
			\wordat(andrain)(1288,660){and rain}
			\wordat(cornelius)(1210,668){of cornelius}
			\wordat(thendead)(1164,667){then dead}
			\wordat(glacieror)(1351,670){glacier or}
			\wordat(continually)(1347,674){continually}
			\wordat(hastoo)(1408,676){has too}
			\wordat(threatened)(1412,674){threatened}
			\wordat(hovel)(1474,671){hovel chapter}
			\wordat(changewithout)(814,669){change without}
			\wordat(sighof)(905,668){sigh of}
			\wordat(istrue)(912,665){is true}
			\wordat(mywords)(800,679){my words}
			\wordat(ofghosts)(827,683){of ghosts}
			\wordat(passher)(1054,678){pass her}
			\wordat(anotherman)(1111,687){another man}
			\wordat(appalling)(1187,688){appalling a}
			\wordat(broughtmisery)(1157,690){brought misery}
			\wordat(whomthe)(896,691){whom the}
			\wordat(marriage)(891,695){marriage were}
			\wordat(provesthe)(889,701){proves the}
			\wordat(sighshe)(1038,695){sigh she}
			\wordat(totallyvoid)(1052,697){totally void}
			\wordat(diversity)(1098,695){the diversity}
			\wordat(bidme)(1113,699){bid me}
			\wordat(plankto)(1147,703){plank to}
			\wordat(creationcome)(1170,707){creation come}
			\wordat(myplan)(1213,696){my plan}
			\wordat(formerself)(1258,694){former self}
			\wordat(athousand)(952,706){a thousand}
			\wordat(mineduring)(1092,707){mine during}
			\wordat(frenchshe)(884,715){french she}
			\wordat(spiritof)(926,712){spirit of}
			\wordat(beknew)(814,723){be knew}
			\wordat(itmean)(837,728){it mean}
			\wordat(pained)(880,731){pained and}
			\wordat(peacefulwhile)(1080,723){peaceful while}
			\wordat(glacierhad)(1218,709){glacier had}
			\wordat(youreyes)(1203,714){your eyes}
			\wordat(suchmatters)(1308,719){such matters}
			\wordat(thatnone)(1354,707){that none}
			\wordat(cursory)(1460,705){cursory glance}
			\wordat(shecontinued)(1438,711){she continued}
			\wordat(falling)(1460,712){continually falling}
			\wordat(bepatient)(1451,720){be patient}
			\wordat(theforms)(1439,722){the forms}
			\wordat(whatbefore)(1443,689){what before}
			\wordat(thatthey)(1237,732){that they}
			\wordat(withsimple)(1273,730){with simple}
			\wordat(afterwards)(1397,740){afterwards he}
			\wordat(motionsi)(1427,741){motions i}
			\wordat(contentwith)(1077,737){content with}
			\wordat(thatshe)(1071,743){that she}
			\wordat(intimate)(1007,746){intimate friends}
			\wordat(virtues)(1021,752){virtues they}
			\wordat(thebleak)(1065,751){the bleak}
			\wordat(inaccessible)(876,752){inaccessible this}
			\wordat(trulythank)(887,760){truly thank}
			\wordat(abodefairer)(811,761){abode fairer}
			\wordat(cheerful)(925,766){cheerfulness}
			\wordat(lessonsof)(965,767){lessons of}
			\wordat(beautystill)(932,774){beauty still}
			\wordat(weremy)(814,779){were my}
			\wordat(resembled)(1077,773){resembled to}
			\wordat(farthersouth)(1168,755){farther south}
			\wordat(sorrowpoured)(1205,755){sorrow poured}
			\wordat(onlynurse)(1226,757){only nurse}
			\wordat(duringthese)(1248,750){during these}
			\wordat(madeher)(1313,752){made her}
			\wordat(endif)(1335,750){end if}
			\wordat(ofthis)(1258,760){of this}
			\wordat(hopesof)(1295,761){hopes of}
			\wordat(directions)(1203,771){directions among}
			\wordat(daysat)(1205,780){days at}
			\wordat(regulated)(889,783){regulated by}
			\wordat(reigned)(1145,788){reigned there}
			\wordat(otherman)(1154,791){other man}
			\wordat(recovered)(1015,792){recovered from}
			\wordat(orcast)(1075,797){or cast}
			\wordat(conditionfor)(1116,794){condition for}
			\wordat(innocentrely)(909,800){innocent rely}
			\wordat(almostof)(882,803){almost of}
			\wordat(shutin)(1109,805){shut in}
			\wordat(somesound)(1154,806){some sound}
			\wordat(enchanted)(1008,816){enchanted by}
			\wordat(murmurof)(1069,812){murmur of}
			\wordat(ligaments)(1380,777){ligaments are}
			\wordat(mentioned)(1442,784){was mentioned}
			\wordat(surprise)(1288,792){surprise had}
			\wordat(starvation)(1284,800){whom starvation}
			\wordat(havethought)(1194,818){have thought}
			\wordat(krempeb)(1236,811){krempe}
			\wordat(hideous)(1278,810){the hideous}
			\wordat(doting)(1356,813){doting fondness}
			\wordat(tearsif)(1457,809){tears if}
			\wordat(himto)(1361,818){him to}
			\wordat(evenher)(1374,826){even her}
			\wordat(onlywonder)(1378,829){only wonder}
			\wordat(ori)(980,825){or i}
			\wordat(endureto)(1039,828){endure to}
			\wordat(perhapsi)(1097,829){perhaps i}
			\wordat(readtheir)(824,821){read their}
			\wordat(wasting)(906,833){endured wasting}
			\wordat(wasnone)(1086,835){was none}
			\wordat(willforgive)(994,841){will forgive}
			\wordat(uniform)(1141,841){the uniform}
			\wordat(miserable)(1175,846){the miserable}
			\wordat(labour)(1203,838){the labour}
			\wordat(fuelfor)(1221,844){fuel for}
			\wordat(destruction)(1252,841){draw destruction}
			\wordat(undertaking)(1378,845){undertaking a}
			\wordat(intended)(1370,857){intended services}
			\wordat(precipices)(1474,864){precipices and}
			\wordat(modernphil)(1481,864){modern philosophers}
			\wordat(otherhuman)(1409,871){other human}
			\wordat(hebitterly)(1031,850){he bitterly}
			\wordat(spurned)(1015,853){spurned the}
			\wordat(manwho)(857,855){man who}
			\wordat(happier)(837,861){happier manners}
			\wordat(ifset)(884,869){if set}
			\wordat(blamable)(817,874){blamable in}
			\wordat(pilgrimage)(1026,879){a pilgrimage}
			\wordat(upright)(1102,875){upright in}
			\wordat(onwhose)(1085,883){on whose}
			\wordat(lakeof)(1208,858){lake of}
			\wordat(vaini)(1260,859){vain i}
			\wordat(havethoughts)(1226,868){have thoughts}
			\wordat(catastrophe)(1301,871){catastrophe}
			\wordat(thecrime)(1269,876){the crime}
			\wordat(failedme)(1234,889){failed me}
			\wordat(behappy)(1334,891){be happy}
			\wordat(standard)(1341,901){standard of}
			\wordat(clingsto)(1422,902){clings to}
			\wordat(youpromised)(1200,900){you promised}
			\wordat(catalogue)(1203,917){catalogue of}
			\wordat(withhatred)(1234,925){with hatred}
			\wordat(staggered)(1323,916){have staggered}
			\wordat(loveris)(1353,918){lover is}
			\wordat(onemust)(1306,925){one must}
			\wordat(veryuneven)(1427,923){very uneven}
			\wordat(extremewonder)(1227,935){extreme wonder}
			\wordat(wherewere)(1283,941){where were}
			\wordat(thebent)(1288,944){the bent}
			\wordat(coldblood)(1336,939){cold blood}
			\wordat(inengland)(1066,903){in england}
			\wordat(murdered)(1095,903){murdered}
			\wordat(countenancesb)(1052,906){and countenances}
			\wordat(extremefatigue)(938,914){extreme fatigue}
			\wordat(wrotethat)(1020,920){wrote that}
			\wordat(studied)(1044,919){continually studied}
			\wordat(andfuel)(1003,928){and fuel}
			\wordat(myhouse)(834,939){my house}
			\wordat(sights)(1075,935){sights were}
			\wordat(chillyour)(845,953){chill your}
			\wordat(hadmurdered)(904,946){had murdered}
			\wordat(aftertheir)(949,946){after their}
			\wordat(herests)(1028,954){he rests}
			\wordat(fromblame)(1114,955){from blame}
			\wordat(failto)(1138,961){fail to}
			\wordat(threatenedb)(1169,967){he threatened}
			\wordat(runaway)(879,964){run away}
			\wordat(maddening)(839,966){maddening rage}
			\wordat(detested)(972,964){detested a}
			\wordat(ipacked)(1022,967){i packed}
			\wordat(discoveredb)(1077,972){and discovered}
			\wordat(acreator)(1126,970){a creator}
			\wordat(timeswould)(932,982){times would}
			\wordat(inwhichothers)(990,979){in which others}
			\wordat(operations)(1077,980){my operations}
			\wordat(andcaused)(1047,982){and caused}
			\wordat(atree)(1182,960){a tree}
			\wordat(lingering)(1194,978){the lingering}
			\wordat(departure)(1208,993){the departure}
			\wordat(concerning)(1170,995){concerning the}
			\wordat(whichyou)(1378,956){which you}
			\wordat(amountains)(1442,955){a mountains}
			\wordat(periodshe)(1468,965){period she}
			\wordat(vacillating)(1392,974){vacillating in}
			\wordat(scentand)(1484,976){scent and}
			\wordat(takeit)(1468,978){take it}
			\wordat(wasmarked)(1295,978){was marked}
			\wordat(porteropened)(1295,984){porter opened}
			\wordat(frankensteinwas)(1395,985){frankenstein was}
			\wordat(localities)(1295,991){localities and}
			\wordat(laboursdid)(1378,988){labours did}
			\wordat(notcompose)(1367,995){not compose}
			\wordat(seeingthe)(1392,1002){seeing the}
			\wordat(calmher)(879,1000){calm her}
			\wordat(sexesand)(874,1011){sexes and}
			\wordat(praises)(837,1010){praises bestowed}
			\wordat(theplains)(801,1015){the plains}
			\wordat(beimagined)(1034,1005){be imagined}
			\wordat(windings)(1058,1008){the windings}
			\wordat(females)(994,1011){the females}
			\wordat(shehad)(1037,1015){she had mentioned}
			\wordat(beautifulform)(944,1022){beautiful form}
			\wordat(tookposs)(969,1023){took possession}
			\wordat(especially)(967,1025){especially when}
			\wordat(wildfancies)(1040,1028){wild fancies}
			\wordat(provided)(1149,1016){however provided}
			\wordat(theirmeaning)(1154,1012){their meaning}
			\wordat(mindof)(1157,1020){mind of}
			\wordat(otherwise)(1180,1027){which otherwise}
			\wordat(disclosed)(980,1034){already disclosed}
			\wordat(unremitted)(979,1040){unremitted but}
			\wordat(youknew)(1070,1036){you knew}
			\wordat(emaciated)(1072,1033){the emaciated}
			\wordat(ingolstadt)(1126,1034){ingolstadt that}
			\wordat(descended)(1233,1036){and descended}
			\wordat(myeternal)(1167,1042){my eternal}
			\wordat(thankfulness)(854,1037){with thankfulness}
			\wordat(slumbers)(804,1053){slumbers as}
			\wordat(produced)(909,1052){have produced}
			\wordat(hetook)(1069,1051){he took}
			\wordat(orpassed)(1144,1054){or passed}
			\wordat(morehe)(1335,1028){more he}
			\wordat(semblance)(1392,1018){semblance of}
			\wordat(remember)(1460,1018){remember that}
			\wordat(stepsalready)(1431,1023){steps already}
			\wordat(wearing)(1487,1023){wearing for}
			\wordat(domestic)(1469,1032){and domestic}
			\wordat(overhanging)(1401,1042){the overhanging}
			\wordat(enjoined)(1404,1045){enjoined me}
			\wordat(vainthe)(1374,1056){vain the}
			\wordat(revengemy)(277,1061){revenge my}
			\wordat(andvines)(198,1068){and vines}
			\wordat(boundary)(234,1077){its boundary}
			\wordat(theypreserve)(356,1074){they preserve}
			\wordat(hearer)(392,1069){hearer with}
			\wordat(passing)(177,1085){passing several}
			\wordat(eloquence)(405,1086){of eloquence}
			\wordat(hersince)(320,1093){her since}
			\wordat(cruellest)(166,1097){the cruellest}
			\wordat(handsyou)(246,1097){hands you}
			\wordat(britain)(237,1100){britain the}
			\wordat(myplace)(269,1099){my place}
			\wordat(journeywe)(189,1103){journey we}
			\wordat(weakness)(247,1107){weakness and}
			\wordat(onsome)(181,1117){on some}
			\wordat(voicesof)(363,1118){voices of}
			\wordat(modeunknown)(143,1134){mode unknown}
			\wordat(assassins)(150,1137){assassins and}
			\wordat(closelyand)(177,1136){closely and}
			\wordat(obscure)(195,1142){with obscure}
			\wordat(iceit)(221,1144){ice it}
			\wordat(hastily)(316,1130){hastily to}
			\wordat(roomhe)(343,1128){room he}
			\wordat(greatness)(429,1125){greatness of}
			\wordat(broaddisk)(308,1140){broad disk}
			\wordat(fatigue)(337,1143){the fatigue}
			\wordat(intercept)(308,1146){not intercept}
			\wordat(situation)(395,1139){situation but}
			\wordat(wasi)(240,1153){was i}
			\wordat(pursuitand)(223,1165){pursuit and}
			\wordat(hemeant)(299,1162){he meant}
			\wordat(ofstones)(216,1181){of stones}
			\wordat(strangea)(317,1180){strange a}
			\wordat(expressmy)(287,1198){express my}
			\wordat(shecould)(287,1204){she could}
			\wordat(cragsi)(389,1204){crags i}
			\wordat(thatch)(244,1208){thatch had}
			\wordat(alteration)(193,1220){alteration perceptible}
			\wordat(onethat)(312,1224){one that}
			\wordat(confidein)(423,1223){confide in}
			\wordat(hewalks)(367,1234){he walks}
			\wordat(fatherpassed)(360,1240){father passed}
			\wordat(heartover)(347,1243){heart overflowing}
			\wordat(somedevil)(194,1241){some devil}
			\wordat(howfearful)(177,1248){how fearful}
			\wordat(insociety)(375,1250){in society}
			\wordat(theirswhen)(252,1256){theirs when}
			\wordat(felta)(280,1256){felt a}
			\wordat(owna)(374,1261){own a}
			\wordat(feelingsexp)(413,1256){feelings expressed}
			\wordat(pursuitit)(212,1268){pursuit it}
			\wordat(produceda)(221,1270){produced a}
			\wordat(thesewishes)(283,1266){these wishes}
			\wordat(exhaustion)(321,1266){exhaustion a}
			\wordat(onlythink)(252,1275){only think}
			\wordat(butdraw)(221,1288){but draw}
			\wordat(peaceful)(201,1293){and peaceful}
			\wordat(towardsthose)(184,1302){towards those}
			\wordat(youthful)(207,1309){the youthful}
			\wordat(sympathy)(152,1313){sympathy was}
			\wordat(tormented)(172,1316){and tormented}
			\wordat(qualityin)(197,1324){quality in}
			\wordat(createanother)(346,1292){create another}
			\wordat(canfall)(333,1294){can fall which}
			\wordat(stepped)(306,1300){stepped fearfully}
			\wordat(participated)(306,1310){participated but}
			\wordat(tortured)(325,1318){and tortured}
			\wordat(determination)(370,1313){determination i}
			\wordat(whichfell)(370,1322){which fell}
			\wordat(accomplished)(301,1325){be accomplished}
			\wordat(enquiry)(365,1332){enquiry and}
			\wordat(wastaught)(357,1333){was taught}
			\wordat(wentas)(255,1344){went as}
			\wordat(ifwe)(264,1349){if we}
			\wordat(approach)(325,1344){to approach}
			\wordat(apartment)(352,1346){apartment to}
			\wordat(inhabit)(422,1351){inhabit your}
			\wordat(roofof)(262,1363){roof of}
			\wordat(menbe)(321,1363){men be}
			\wordat(superscription)(359,1365){the superscription}
			\wordat(beautifulformb)(388,1362){beautiful form}
			\wordat(wasperfectly)(279,1380){was perfectly}
			\wordat(tranquillized)(383,1377){tranquillized}
			\wordat(appallingb)(367,1380){appalling}
			\wordat(duringa)(194,1389){during a}
			\wordat(wassevere)(249,1389){was severe}
			\wordat(willingness)(380,1389){willingness}
			\wordat(languageonly)(410,1391){language only}
			\wordat(onlyinduced)(309,1396){only induced}
			\wordat(possessions)(195,1404){possessions most}
			\wordat(clerval)(250,1405){clerval were}
			\wordat(atoo)(262,1407){a too}
			\wordat(happyto)(329,1404){happy to}
			\wordat(gaitonly)(195,1413){gait only}
			\wordat(sufficiency)(144,1421){sufficiency of}
			\wordat(begone)(202,1421){begone vile}
			\wordat(beforeher)(271,1419){before her}
			\wordat(sharedmy)(319,1425){shared my}
			\wordat(remindme)(393,1423){remind me}
			\wordat(everyfeeling)(366,1438){every feeling}
			\wordat(buthis)(452,1060){but his}
			\wordat(putmy)(512,1060){put my}
			\wordat(mightexpedite)(593,1061){might expedite}
			\wordat(fellasleep)(583,1069){fell asleep}
			\wordat(overcome)(616,1072){overcome}
			\wordat(humanity)(588,1077){humanity pitiable}
			\wordat(acquired)(635,1077){acquired a}
			\wordat(artof)(692,1069){art of}
			\wordat(flagrant)(726,1070){very flagrant}
			\wordat(tosucceed)(495,1086){to succeed}
			\wordat(ofcheerful)(523,1086){cheerfulness}
			\wordat(untilevery)(621,1088){until every}
			\wordat(departed)(600,1092){departed seemed}
			\wordat(irelandand)(698,1100){ireland and}
			\wordat(thoughtsvan)(757,1100){thoughts vanished}
			\wordat(thesea)(602,1121){the sea}
			\wordat(raisedmy)(644,1115){raised my}
			\wordat(thatten)(653,1124){that ten}
			\wordat(anchor)(661,1128){anchor and}
			\wordat(possible)(703,1119){was possible}
			\wordat(cottagetheir)(751,1122){cottage their}
			\wordat(mywishes)(793,1127){my wishes}
			\wordat(misfortunesw)(708,1130){misfortunes weigh}
			\wordat(pleasure)(734,1137){with pleasure}
			\wordat(decisive)(744,1139){so decisive}
			\wordat(pittance)(558,1131){the pittance}
			\wordat(sealedforever)(478,1134){sealed forever}
			\wordat(variousfeelings)(450,1136){various feelings}
			\wordat(desires)(601,1136){desires were}
			\wordat(sympathyof)(637,1138){of sympathy}
			\wordat(enslaved)(660,1142){been enslaved}
			\wordat(mountainwhere)(696,1146){mountain where}
			\wordat(periodappear)(783,1150){period appear}
			\wordat(sawno)(621,1151){saw no}
			\wordat(motionamong)(742,1164){motion among}
			\wordat(himself)(636,1180){of himself}
			\wordat(threwdown)(516,1189){threw down}
			\wordat(bodily)(496,1196){by bodily}
			\wordat(beforeevery)(526,1200){before every}
			\wordat(ignominy)(507,1204){to ignominy}
			\wordat(alongand)(669,1203){along and}
			\wordat(beenappeared)(708,1210){been appeared}
			\wordat(whatshall)(688,1215){what shall}
			\wordat(hatred)(651,1217){hatred beneath}
			\wordat(passedmost)(633,1222){passed most}
			\wordat(yourship)(606,1225){your ship}
			\wordat(theselect)(523,1224){the select}
			\wordat(thesweet)(721,1222){the sweet}
			\wordat(farmhouse)(725,1224){and farmhouse}
			\wordat(shallseek)(808,1223){shall seek}
			\wordat(ittook)(708,1229){it took}
			\wordat(hecould)(747,1229){he could}
			\wordat(attention)(693,1235){attention}
			\wordat(rainas)(772,1235){because rain as}
			\wordat(resentment)(729,1237){the resentment}
			\wordat(andmental)(457,1230){and mental}
			\wordat(daringto)(575,1240){daring to}
			\wordat(ofmyself)(759,1246){of myself}
			\wordat(toenvelop)(530,1245){to envelop}
			\wordat(sounds)(425,1245){sounds sweeter}
			\wordat(wasnear)(493,1251){was near}
			\wordat(despondency)(424,1248){my despondency}
			\wordat(casualties)(559,1255){casualties that}
			\wordat(bewildered)(703,1253){bewildered when}
			\wordat(darkness)(688,1255){and darkness}
			\wordat(irksome)(765,1255){was irksome}
			\wordat(differencebetween)(820,1249){difference between}
			\wordat(desertmount)(467,1266){desert mountains}
			\wordat(attsuddenly)(726,1265){attention suddenly}
			\wordat(shouldput)(566,1274){should put}
			\wordat(unequal)(578,1280){became unequal}
			\wordat(oftheir)(602,1286){of their}
			\wordat(saleve)(678,1272){saleve these}
			\wordat(isturned)(759,1277){is turned}
			\wordat(silenceis)(805,1287){silence is}
			\wordat(iacceded)(666,1285){i acceded}
			\wordat(unfailing)(665,1291){unfailing as}
			\wordat(myselfwith)(703,1291){myself with}
			\wordat(referenceof)(458,1288){reference of}
			\wordat(surprisedhenry)(442,1293){surprised henry}
			\wordat(hispower)(466,1299){his power}
			\wordat(undergo)(502,1299){undergo and}
			\wordat(narration)(563,1307){hideous narration}
			\wordat(herdeparture)(697,1317){her departure}
			\wordat(gainsome)(685,1321){gain some}
			\wordat(andterror)(719,1312){and terror}
			\wordat(conceiving)(598,1324){conceiving that}
			\wordat(anomen)(628,1331){an omen}
			\wordat(fewhuman)(755,1327){few human}
			\wordat(looksdirected)(447,1337){looks directed}
			\wordat(whenotherwise)(470,1338){when otherwise}
			\wordat(godssake)(724,1336){gods sake}
			\wordat(cloudsthey)(580,1343){clouds they}
			\wordat(disregard)(694,1341){disregard it}
			\wordat(foryour)(785,1346){for your}
			\wordat(fineit)(635,1351){fine it}
			\wordat(gathered)(509,1356){gathered round}
			\wordat(sweetestme)(458,1354){sweetest me}
			\wordat(enhancedto)(529,1363){enhanced to}
			\wordat(hadselected)(463,1367){had selected}
			\wordat(sistergreat)(726,1361){sister great}
			\wordat(whosoothed)(742,1366){who soothed}
			\wordat(twobut)(733,1369){two but}
			\wordat(historyand)(678,1369){history and}
			\wordat(guiltwhich)(657,1376){guilt which}
			\wordat(troubled)(726,1376){was troubled}
			\wordat(violently)(657,1380){the violently}
			\wordat(byrifts)(701,1380){by rifts}
			\wordat(landscape)(417,1379){landscape}
			\wordat(excess)(554,1383){excess destroyed}
			\wordat(collecting)(458,1388){of collecting}
			\wordat(expanse)(611,1388){the expanse}
			\wordat(lostno)(648,1389){lost no}
			\wordat(victorious)(682,1393){were victorious}
			\wordat(childnay)(443,1401){child nay}
			\wordat(yetmine)(563,1410){yet mine}
			\wordat(isopened)(537,1415){is opened}
			\wordat(thushe)(455,1423){thus he}
			\wordat(hesitated)(671,1428){hesitated before}
			\wordat(ofmortals)(726,1433){of mortals}
			\wordat(wasconveyed)(805,1425){was conveyed}
			\wordat(naturethat)(800,1430){nature that}
			\wordat(fancymyself)(895,1060){fancy myself}
			\wordat(thatexisted)(960,1066){that existed}
			\wordat(unknownhow)(1043,1073){unknown how}
			\wordat(toolsin)(1162,1068){tools in}
			\wordat(occasion)(1138,1079){occasion my}
			\wordat(hadfled)(1154,1078){had fled}
			\wordat(youthey)(869,1081){you they}
			\wordat(placid)(1092,1091){placid all}
			\wordat(paththat)(1163,1094){path that}
			\wordat(myfamily)(861,1097){my family}
			\wordat(wanein)(896,1101){wane in}
			\wordat(naturesh)(952,1103){nature should}
			\wordat(thisnoble)(810,1104){this noble}
			\wordat(oneknows)(876,1108){one knows}
			\wordat(margaret)(1105,1103){margaret and}
			\wordat(todanger)(816,1117){to danger}
			\wordat(selfishyet)(1026,1112){selfish yet}
			\wordat(werelost)(1007,1120){were lost}
			\wordat(everyconv)(1072,1119){every conversation}
			\wordat(eversee)(1123,1120){ever see}
			\wordat(enteredwith)(1195,1118){entered with}
			\wordat(advancing)(832,1130){advancing towards}
			\wordat(auguries)(923,1125){auguries even}
			\wordat(plantswhich)(1170,1129){plants which}
			\wordat(silentas)(1157,1137){silent as}
			\wordat(pleasant)(1184,1136){a pleasant}
			\wordat(iviewed)(900,1144){i viewed}
			\wordat(hadjust)(974,1142){had just}
			\wordat(consolation)(1145,1154){find consolation}
			\wordat(indian)(914,1158){indian enterprise}
			\wordat(occupation)(943,1156){occupation the}
			\wordat(planshe)(911,1163){plans he}
			\wordat(feetand)(963,1163){feet and}
			\wordat(wholetruth)(1011,1167){whole truth}
			\wordat(indeednone)(1065,1168){indeed none}
			\wordat(destiny)(1167,1165){destiny}
			\wordat(thatwhile)(1205,1165){that while}
			\wordat(firsttempted)(1200,1172){first tempted}
			\wordat(beneathme)(1219,1174){beneath me}
			\wordat(buthear)(1194,1181){but hear}
			\wordat(icursed)(1138,1178){i cursed}
			\wordat(executed)(1053,1192){executed his}
			\wordat(torchinto)(1085,1191){torch into}
			\wordat(whatplace)(1077,1203){what place}
			\wordat(effaced)(1144,1202){almost effaced}
			\wordat(memorythe)(1131,1208){memory the}
			\wordat(torrent)(1217,1194){the torrent}
			\wordat(careand)(822,1203){care and}
			\wordat(bitterremorse)(868,1208){bitterest remorse}
			\wordat(feelingsbecame)(902,1204){feelings became}
			\wordat(delay)(949,1204){delay}
			\wordat(townforce)(961,1210){town force enough}
			\wordat(visitings)(1112,1217){have visitings}
			\wordat(obnoxiousto)(1098,1219){obnoxious to}
			\wordat(proceededas)(1097,1225){proceeded as}
			\wordat(havingdestroyed)(1141,1228){having destroyed}
			\wordat(peoplewhom)(858,1223){people whom}
			\wordat(himhad)(978,1220){him had}
			\wordat(blackveil)(1110,1236){black veil}
			\wordat(thedying)(1190,1237){the dying}
			\wordat(wisdom)(828,1233){and wisdom}
			\wordat(sheever)(863,1234){she ever}
			\wordat(havenever)(945,1231){have never}
			\wordat(breakfast)(1005,1238){breakfast with}
			\wordat(regarded)(980,1243){regarded me}
			\wordat(everyone)(989,1246){existence everyone}
			\wordat(pursuethe)(846,1248){pursue the}
			\wordat(changehas)(1109,1251){change has}
			\wordat(obnoxious)(944,1255){became obnoxious}
			\wordat(histhoughts)(1026,1257){his thoughts}
			\wordat(deeplybut)(1042,1263){deeply but}
			\wordat(reflectionb)(1167,1266){reflection}
			\wordat(circumcame)(1213,1266){circumstances came}
			\wordat(ofinnocence)(1276,1257){of innocence}
			\wordat(blueand)(992,1272){blue and}
			\wordat(fromthis)(1124,1273){from this}
			\wordat(dirgeat)(950,1280){dirge at}
			\wordat(andon)(965,1281){and on}
			\wordat(pausebefore)(1069,1278){pause before}
			\wordat(theclosest)(1020,1287){the closest}
			\wordat(slightest)(915,1296){slightest shadow}
			\wordat(sustained)(1026,1297){sustained ever}
			\wordat(dawned)(1175,1296){dawned before}
			\wordat(perhapsmay)(1223,1295){perhaps may}
			\wordat(oppressed)(944,1304){was oppressed}
			\wordat(securedher)(998,1304){secured her}
			\wordat(sleeping)(1083,1303){was sleeping}
			\wordat(confessedhe)(866,1308){confessed he}
			\wordat(praiseof)(1115,1314){praise of}
			\wordat(sufferings)(1185,1316){sufferings and}
			\wordat(imitation)(1231,1303){in imitation}
			\wordat(supposedthe)(962,1321){supposed the}
			\wordat(ableto)(1026,1319){able to}
			\wordat(unprejby)(1160,1324){unprejudiced by}
			\wordat(beenthe)(1185,1331){been the}
			\wordat(frankenstein)(1228,1321){frankenstein}
			\wordat(shedtears)(1325,1324){shed tears}
			\wordat(gazed)(1384,1325){although gazed}
			\wordat(passedthe)(1308,1311){passed the}
			\wordat(respecthe)(1425,1337){respect he}
			\wordat(monthson)(1315,1345){months on}
			\wordat(forher)(874,1334){for her}
			\wordat(mysuffering)(905,1335){my suffering}
			\wordat(miserablethan)(828,1342){miserable than}
			\wordat(mysterious)(1038,1335){my mysterious}
			\wordat(admiration)(1051,1336){warmest admiration}
			\wordat(spenddays)(929,1345){spend days}
			\wordat(fevermy)(938,1353){fever my}
			\wordat(christianity)(920,1364){christianity and}
			\wordat(miseryand)(968,1362){misery and}
			\wordat(tosuffer)(985,1365){to suffer}
			\wordat(atorpor)(995,1368){a torpor}
			\wordat(mydearest)(1073,1366){my dearest}
			\wordat(thatas)(1078,1371){that as}
			\wordat(professions)(1192,1360){any professions}
			\wordat(confidethis)(1182,1370){confide this}
			\wordat(daysjourney)(1240,1366){days journey}
			\wordat(anddespair)(1341,1366){and despair}
			\wordat(releasei)(1312,1376){release i}
			\wordat(powersuch)(916,1382){power such}
			\wordat(haveindeed)(927,1385){have indeed}
			\wordat(girland)(971,1378){girl and}
			\wordat(andtastes)(1180,1386){and tastes}
			\wordat(injuryto)(1469,1384){injury to}
			\wordat(aminnocent)(839,1389){am innocent}
			\wordat(everfind)(1039,1393){ever find}
			\wordat(ardour)(1241,1393){with ardour}
			\wordat(campagne)(1260,1395){campagne on}
			\wordat(childrenhow)(1118,1402){children how}
			\wordat(improbable)(1057,1404){improbable i}
			\wordat(elizabethwere)(819,1405){elizabeth were}
			\wordat(countenance)(1486,1410){a countenance}
			\wordat(raisemy)(1131,1409){raise my}
			\wordat(strangest)(975,1408){strangest}
			\wordat(tobeknown)(1040,1410){to be known}
			\wordat(rightwhich)(877,1414){right which}
			\wordat(thebirth)(930,1412){the birth}
			\wordat(saidshe)(1031,1417){said she}
			\wordat(vicinity)(1052,1416){vicinity to}
			\wordat(wassolely)(1118,1417){was solely}
			\wordat(wasrapidly)(1040,1424){was rapidly}
			\wordat(principally)(1388,1421){principally occupied}
			\wordat(anddismay)(1475,1424){and dismay}
			\wordat(neatand)(1456,1430){neat and}
			\wordat(conjectured)(1275,1426){conjectured that}
			\wordat(execution)(1344,1427){the execution}
			\wordat(intercourse)(1248,1428){intercourse i}
			\wordat(achild)(1401,1432){a child}
			\wordat(relatedmy)(1401,1058){related my}
			\wordat(doomedhim)(1435,1064){doomed him}
			\wordat(accessof)(1203,1074){access of}
			\wordat(firstreflect)(1235,1071){first reflections}
			\wordat(madeit)(1237,1066){made it}
			\wordat(citythe)(1249,1076){city the}
			\wordat(airbut)(1442,1078){air but}
			\wordat(abandon)(1473,1091){abandon my}
			\wordat(itis)(1483,1093){it is}
			\wordat(havingcaused)(1313,1108){having caused}
			\wordat(williamhad)(1369,1114){william had}
			\wordat(valuedhe)(1351,1120){valued he}
			\wordat(farother)(1347,1124){far other}
			\wordat(sovirtuous)(1254,1123){so virtuous}
			\wordat(weregoing)(1270,1122){were going}
			\wordat(ifled)(1451,1127){i fled}
			\wordat(journeyi)(1317,1133){journey i}
			\wordat(anxiousto)(1356,1143){anxious to}
			\wordat(authorsof)(1210,1147){authors of}
			\wordat(wentmy)(1386,1148){went my}
			\wordat(throughmany)(1470,1154){through many}
			\wordat(alashow)(1344,1151){alas how}
			\wordat(ofexciting)(1423,1157){of exciting}
			\wordat(amiable)(1338,1165){amiable and}
			\wordat(eventhink)(1466,1166){even think}
			\wordat(dilatory)(1481,1168){was dilatory}
			\wordat(singleoff)(1354,1171){single offspring}
			\wordat(heldin)(1312,1175){held in}
			\wordat(inconceiving)(1378,1175){in conceiving}
			\wordat(strength)(1403,1196){strength was}
			\wordat(andfatigue)(1397,1198){and fatigue}
			\wordat(horizon)(1319,1205){the horizon}
			\wordat(mystature)(1310,1213){my stature}
			\wordat(bitterlywhen)(1438,1209){bitterly when}
			\wordat(concerninghis)(1478,1209){concerning his}
			\wordat(wouldstill)(1344,1224){would still}
			\wordat(offspring)(1418,1226){offspring of}
			\wordat(wasdry)(1457,1229){was dry}
			\wordat(tosubmit)(1460,1237){to submit}
			\wordat(confinedto)(1293,1251){confined to}
			\wordat(misfortunessince)(1344,1258){misfortunes since}
			\wordat(recommence)(1344,1263){and recommence}
			\wordat(gowith)(1448,1261){go with}
			\wordat(thekid)(1300,1276){the kid}
			\wordat(youthat)(1341,1277){you that}
			\wordat(mightindeed)(1344,1284){might indeed}
			\wordat(feelingsubdued)(1451,1286){feeling subdued}
			\wordat(turbulence)(1473,1288){and turbulence}
			\wordat(mysuccess)(1338,1292){my success}
			
			%%%%% EDGES %%%%%
			\begin{scope}[on background layer]
			\linkto(deathsnatches)(wouldgreatly)
			\linkto(buttwo)(roomsand)
			\linkto(viewtook)(heappearedb)
			\linkto(coffin)(asi)
			\linkto(myhouse)(threatdeath)
			\linkto(favourableint)(welli)
			\linkto(environs)(reception)
			\linkto(theyet)(companywas)
			\linkto(lifewith)(hadgiven)
			\linkto(nothow)(oftartary)
			\linkto(peasants)(dweltin)
			\linkto(daybut)(sosoon)
			\linkto(hewalks)(selfishpursuit)
			\linkto(notprep)(hismarrying)
			\linkto(attentionto)(countrybut)
			\linkto(theaged)(teethin)
			\linkto(consummated)(lattername)
			\linkto(tremblingshe)(sosoon)
			\linkto(plentiful)(butnot)
			\linkto(lightenedas)(horrorlike)
			\linkto(conditionmust)(ifind)
			\linkto(seeingme)(mannerin)
			\linkto(aloneshould)(irushed)
			\linkto(herinnocence)(asi)
			\linkto(sealedforever)(asi)
			\linkto(wasshort)(asi)
			\linkto(butit)(istrue)
			\linkto(lifewith)(athousand)
			\linkto(fruitlessly)(miserable)
			\linkto(missedshe)(againeven)
			\linkto(generalstate)(likethe)
			\linkto(acreator)(andhis)
			\linkto(beimagined)(thatnight)
			\linkto(thatthe)(hopeyet)
			\linkto(manwho)(fixedon)
			\linkto(toissue)(tastes)
			\linkto(rushing)(majestic)
			\linkto(wasunable)(todefine)
			\linkto(spiritof)(rejoicedi)
			\linkto(thistime)(snatchesaway)
			\linkto(affection)(wasunable)
			\linkto(reverence)(lifeand)
			\linkto(momentmore)(pictureof)
			\linkto(recovered)(wesaw)
			\linkto(amountains)(shadedmy)
			\linkto(itsank)(companion)
			\linkto(enchanted)(hurriedme)
			\linkto(pilgrimage)(hurriedme)
			\linkto(fromblame)(hurriedme)
			\linkto(departure)(fondof)
			\linkto(chillyour)(virtues)
			\linkto(spiritof)(inengland)
			\linkto(despairat)(concerning)
			\linkto(athousand)(timeswould)
			\linkto(spurned)(ingolstadt)
			\linkto(lingering)(runaway)
			\linkto(andutility)(thatthey)
			\linkto(creationcome)(doting)
			\linkto(wasting)(behappy)
			\linkto(topeace)(behappy)
			\linkto(mineduring)(atree)
			\linkto(horizon)(departure)
			\linkto(torrent)(whichyou)
			\linkto(snatchesaway)(itis)
			\linkto(snatchesaway)(passedthe)
			\linkto(seeingthe)(abandon)
			\linkto(placid)(authorsof)
			\linkto(lingering)(alashow)
			\linkto(accessof)(offspring)
			\linkto(buthear)(passedthe)
			\linkto(circumcame)(passedthe)
			\linkto(sufferings)(principally)
			\linkto(porteropened)(misfortunessince)
			\linkto(beautifulform)(dirgeat)
			\linkto(females)(andon)
			\linkto(fancymyself)(thebirth)
			\linkto(townforce)(miserablethan)
			\linkto(delay)(wasconveyed)
			\linkto(mywishes)(wisdom)
			\linkto(planshe)(securedher)
			\linkto(placid)(ableto)
			\linkto(silenceis)(wassolely)
			\linkto(destiny)(raisemy)
			\linkto(indian)(journeyi)
			\linkto(handsyou)(foryour)
			\linkto(supposedthe)(onsome)
			\linkto(pursuitand)(silenceis)
			\linkto(greatness)(expressmy)
			\linkto(cragsi)(youthful)
			\linkto(insociety)(possessions)
			\linkto(gaitonly)(enhancedto)
			\linkto(participated)(governments)
			\linkto(canfall)(variousfeelings)
			\linkto(ofobjects)(aradiant)
			\linkto(whilemaking)(reflection)
			\linkto(gohave)(enduredbut)
			\linkto(longhornhad)(herselfat)
			\linkto(indulgedin)(sickening)
			\linkto(plainpalais)(theypreserve)
			\linkto(appdifferent)(referenceof)
			\linkto(gayand)(winding)
			\linkto(inexistence)(spiritforbidden)
			\linkto(motionedhim)(mistakethe)
			\linkto(reception)(intellectof)
			\linkto(andsurely)(slumbers)
			\linkto(uniform)(thatthe)
			\linkto(nosuper)(putmy)
			\linkto(putmy)(thesea)
			\linkto(irelandand)(thesea)
			\linkto(mightexpedite)(thatten)
			\linkto(herdeparture)(expanse)
			\linkto(eloquence)(andmental)
			\linkto(ofcheerful)(surprisedhenry)
			\linkto(whichprocured)(realizedwhat)
			\linkto(passher)(realizedwhat)
			\linkto(savevery)(uponevery)
			\linkto(attemptof)(notthe)
			\linkto(refinement)(weakstate)
			\linkto(ieat)(sighshe)
			\linkto(permit)(seekthem)
			\linkto(withsome)(thesoil)
			\linkto(paysto)(experienced)
			\linkto(generally)(orhow)
			\linkto(spiritof)(speak)
			\end{scope}
		\end{tikzpicture}
\end{document}
